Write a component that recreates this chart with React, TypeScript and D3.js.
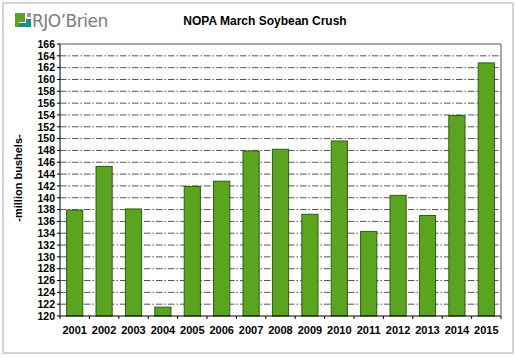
import React from "react";
import * as d3 from "d3";

const years = ["2001","2002","2003","2004","2005","2006","2007","2008","2009","2010","2011","2012","2013","2014","2015"];
const crush = [137.9,145.3,138.1,121.5,141.9,142.8,147.9,148.2,137.2,149.6,134.3,140.4,137.0,153.9,162.8];
const yTicks = d3.range(120, 167, 2);

const W = 516, H = 357;
const L = 60, R = 501, T = 44, B = 316;

export default function App() {
  const x = d3.scaleBand<string>().domain(years).range([L, R]).paddingInner(0.45).paddingOuter(0.225);
  const y = d3.scaleLinear().domain([120, 166]).range([B, T]);
  const step = (R - L) / years.length;
  const font = "Liberation Sans, Arial, sans-serif";
  return (
    <svg width={W} height={H} style={{ position: "absolute", left: 0, top: 0, background: "#fff" }}>
      <rect x={0} y={0} width={W} height={H} fill="#fff" />
      <rect x={3} y={3} width={510} height={350} fill="#fff" stroke="#d4d4d4" strokeWidth={2} />
      {/* logo */}
      <g>
        <rect x={15} y={13} width={10} height={9} fill="#5aa41f" />
        <rect x={15} y={13} width={4} height={14} fill="#5aa41f" />
        <rect x={27} y={13} width={4} height={4} fill="#9a9a9a" />
        <polygon points="19,27 31,27 31,19 26,19 26,23 19,23" fill="#1e8a8a" />
        <text x={32} y={27} fontFamily="DejaVu Sans, sans-serif" fontSize={17} fill="#7d7d7d" letterSpacing={-0.5}>RJO’Brien</text>
      </g>
      <text x={265} y={25} textAnchor="middle" fontFamily={font} fontWeight="bold" fontSize={12} fill="#000">NOPA March Soybean Crush</text>
      <text transform={`translate(22,178) rotate(-90)`} textAnchor="middle" fontFamily={font} fontWeight="bold" fontSize={11} fill="#000">-million bushels-</text>
      {/* gridlines */}
      {yTicks.filter(t => t > 120 && t < 166).map(t => (
        <line key={t} x1={L} x2={R} y1={y(t)} y2={y(t)} stroke="#555" strokeWidth={1} strokeDasharray="6.5,2,1.5,2" />
      ))}
      {/* bars */}
      {years.map((yr, i) => (
        <rect key={yr} x={x(yr)!} y={y(crush[i])} width={x.bandwidth()} height={B - y(crush[i])}
          fill="#5aa41f" stroke="#2e5c12" strokeWidth={1} />
      ))}
      {/* frame */}
      <line x1={L} x2={R} y1={T} y2={T} stroke="#555" strokeWidth={1} />
      <line x1={R} x2={R} y1={T} y2={B} stroke="#555" strokeWidth={1} />
      <line x1={L} x2={L} y1={T} y2={B} stroke="#000" strokeWidth={1} />
      <line x1={L} x2={R} y1={B} y2={B} stroke="#000" strokeWidth={1} />
      {/* y ticks */}
      {yTicks.map(t => (
        <g key={t}>
          <line x1={L - 3} x2={L} y1={y(t)} y2={y(t)} stroke="#000" />
          <text x={L - 5} y={y(t) + 3.8} textAnchor="end" fontFamily={font} fontWeight="bold" fontSize={10.5} fill="#000">{t}</text>
        </g>
      ))}
      {/* x ticks */}
      {d3.range(0, years.length + 1).map(i => (
        <line key={i} x1={L + i * step} x2={L + i * step} y1={B} y2={B + 3} stroke="#000" />
      ))}
      {years.map(yr => (
        <text key={yr} x={x(yr)! + x.bandwidth() / 2} y={334} textAnchor="middle" fontFamily={font} fontWeight="bold" fontSize={11} fill="#000">{yr}</text>
      ))}
    </svg>
  );
}
